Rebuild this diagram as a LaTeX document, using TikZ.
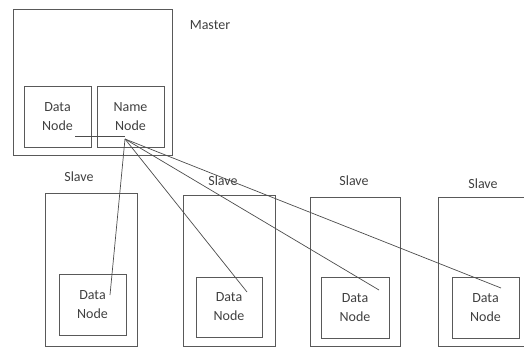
\documentclass[tikz,border=0pt]{standalone}
\usepackage{fontspec}
\setmainfont{Carlito}
\begin{document}
\begin{tikzpicture}[x=1pt,y=-1pt,
  box/.style={draw=black!65, line width=0.8pt, rectangle, inner sep=0pt, outer sep=0pt, anchor=north west},
  txt/.style={font=\fontsize{14}{19}\selectfont, text=black!75, align=center},
  lbl/.style={font=\fontsize{14}{17}\selectfont, text=black!75, inner sep=0pt},
  link/.style={draw=black!70, line width=0.7pt}]
\useasboundingbox (0,0) rectangle (524,349);
% master
\node[box, minimum width=159pt, minimum height=146pt] (master) at (13,9) {};
\node[box, txt, minimum width=67pt, minimum height=61pt] (mdata) at (24,86) {Data\\Node};
\node[box, txt, minimum width=67pt, minimum height=61pt] (mname) at (97,86) {Name\\Node};
\node[lbl] (lmaster) at (210,25) {Master};
% slaves
\node[box, minimum width=92pt, minimum height=153pt] (s1) at (45,193) {};
\node[box, minimum width=92pt, minimum height=151pt] (s2) at (183,195) {};
\node[box, minimum width=90pt, minimum height=149pt] (s3) at (310,197) {};
\node[box, minimum width=100pt, minimum height=149pt] (s4) at (438,197) {};
\node[lbl] (ls1) at (79,177) {Slave};
\node[lbl] (ls2) at (223,181) {Slave};
\node[lbl] (ls3) at (354,181) {Slave};
\node[lbl] (ls4) at (483,184) {Slave};
\node[box, txt, minimum width=67pt, minimum height=61pt] (d1) at (59,274) {Data\\Node};
\node[box, txt, minimum width=66pt, minimum height=60pt] (d2) at (196,277) {Data\\Node};
\node[box, txt, minimum width=68pt, minimum height=61pt] (d3) at (321,277) {Data\\Node};
\node[box, txt, minimum width=67pt, minimum height=61pt] (d4) at (452,277) {Data\\Node};
% connectors
\coordinate (h) at (75,136.5);
\coordinate (hh) at (125,136.5);
\coordinate (hub) at (125,139);
\coordinate (e1) at (110,295);
\coordinate (e2) at (247,292);
\coordinate (e3) at (379,290);
\coordinate (e4) at (501,288);
\draw[link] (h) -- (hh);
\draw[link] (hub) -- (e1);
\draw[link] (hub) -- (e2);
\draw[link] (hub) -- (e3);
\draw[link] (hub) -- (e4);
\end{tikzpicture}
\end{document}
